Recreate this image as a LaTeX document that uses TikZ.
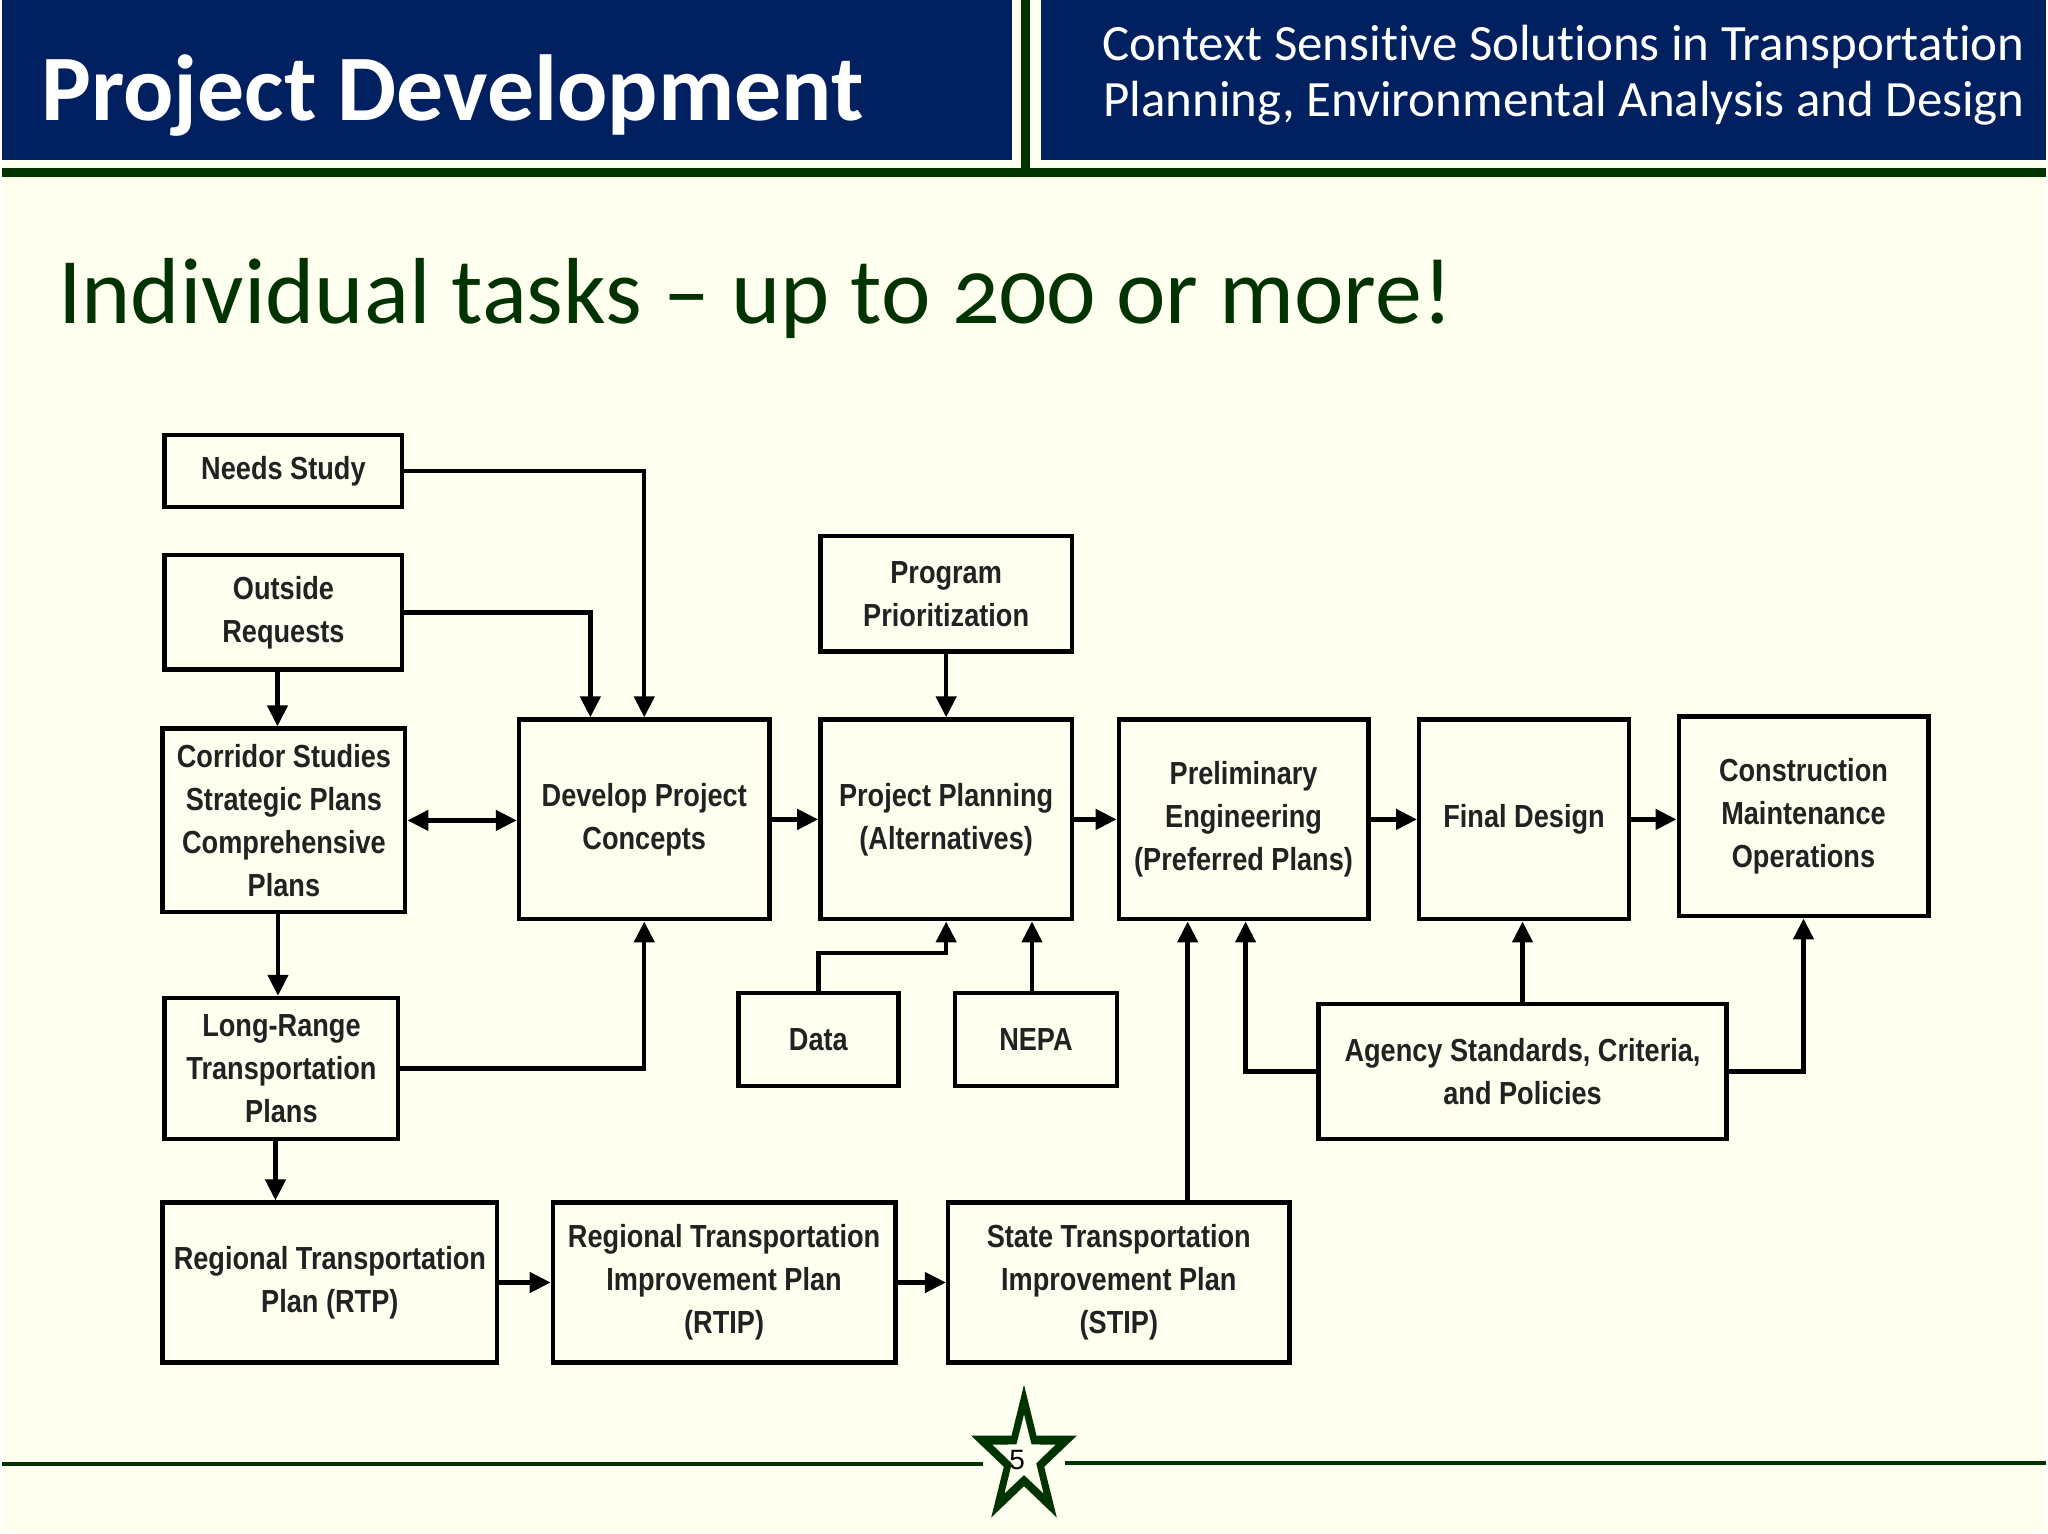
\documentclass[tikz,border=0pt]{standalone}
\usepackage{fontspec}
\setmainfont{Carlito}[Numbers=OldStyle, Ligatures=NoCommon]
\newfontfamily\boxfont[FakeStretch=0.85]{Liberation Sans}
\newfontfamily\numfont{Liberation Sans}
\usetikzlibrary{arrows.meta,positioning}

\definecolor{navy}{RGB}{0,32,96}
\definecolor{darkgreen}{RGB}{0,51,0}
\definecolor{cream}{RGB}{255,255,240}
\definecolor{boxtext}{RGB}{34,34,34}

\tikzset{
  task/.style={draw=black, line width=4.5pt, align=center, inner sep=0pt,
    text=boxtext, font=\boxfont\bfseries\fontsize{32}{43}\selectfont},
  flow/.style={line width=4.5pt, -{Triangle[length=21pt,width=20pt]}},
  flowboth/.style={line width=4.5pt, {Triangle[length=21pt,width=20pt]}-{Triangle[length=21pt,width=20pt]}},
  headtext/.style={inner sep=0pt, text=white},
}

\begin{document}
\begin{tikzpicture}[x=1pt, y=-1pt]
\fill[cream] (0,0) rectangle (2048,1536);
% header
\fill[navy] (0,0) rectangle (1012,160);
\fill[navy] (1041,0) rectangle (2048,160);
\fill[darkgreen] (1021,0) rectangle (1030,177);
\fill[darkgreen] (0,168) rectangle (2048,177);
\node[headtext, anchor=base west, font=\bfseries\fontsize{94}{100}\selectfont] (head) at (39,121) {Project Development};
\node[headtext, anchor=base east, font=\fontsize{51}{56}\selectfont] (sub1) at (2027,61) {Context Sensitive Solutions in Transportation};
\node[headtext, anchor=base east, font=\fontsize{51}{56}\selectfont] (sub2) at (2027,117) {Planning, Environmental Analysis and Design};
\node[inner sep=0pt, anchor=base west, text=darkgreen, font=\fontsize{94}{100}\selectfont] (title) at (56,324) {Individual tasks -- up to 200 or more!};

% task boxes
\node[task, minimum width=238pt, minimum height=72pt] (needs) at (282,472) {Needs Study};
\node[task, minimum width=238pt, minimum height=115pt] (outside) at (282,613.5) {Outside\\Requests};
\node[task, minimum width=243pt, minimum height=184pt] (corridor) at (282.5,822) {Corridor Studies\\Strategic Plans\\Comprehensive\\Plans};
\node[task, minimum width=234pt, minimum height=141pt] (longrange) at (280,1070.5) {Long-Range\\Transportation\\Plans};
\node[task, minimum width=335pt, minimum height=160pt] (rtp) at (328.5,1285) {Regional Transportation\\Plan (RTP)};
\node[task, minimum width=343pt, minimum height=160pt] (rtip) at (723.5,1285) {Regional Transportation\\Improvement Plan\\(RTIP)};
\node[task, minimum width=342pt, minimum height=160pt] (stip) at (1119,1285) {State Transportation\\Improvement Plan\\(STIP)};
\node[task, minimum width=251pt, minimum height=200pt] (develop) at (643.5,821) {Develop Project\\Concepts};
\node[task, minimum width=252pt, minimum height=116pt] (program) at (946,595) {Program\\Prioritization};
\node[task, minimum width=252pt, minimum height=200pt] (planning) at (946,821) {Project Planning\\(Alternatives)};
\node[task, minimum width=160pt, minimum height=93pt] (data) at (818,1041.5) {Data};
\node[task, minimum width=162pt, minimum height=93pt] (nepa) at (1036,1041.5) {NEPA};
\node[task, minimum width=250pt, minimum height=200pt] (prelim) at (1244,821) {Preliminary\\Engineering\\(Preferred Plans)};
\node[task, minimum width=210pt, minimum height=200pt] (final) at (1525,821) {Final Design};
\node[task, minimum width=250pt, minimum height=200pt] (construct) at (1805,818) {Construction\\Maintenance\\Operations};
\node[task, minimum width=409pt, minimum height=135pt] (agency) at (1523.5,1073.5) {Agency Standards, Criteria,\\and Policies};

% connectors
\draw[flow] (needs.east) -| (develop.north);
\draw[flow] (outside.east) -| ([xshift=-54pt]develop.north);
\draw[flow] ([xshift=-6pt]outside.south) -- ([xshift=-6pt]outside.south |- corridor.north);
\draw[flowboth] (corridor.east) -- (corridor.east -| develop.west);
\draw[flow] ([xshift=-6pt]corridor.south) -- ([xshift=-6pt]corridor.south |- longrange.north);
\draw[flow] (longrange.east) -| (develop.south);
\draw[flow] ([xshift=-6pt]longrange.south) -- ([xshift=-6pt]longrange.south |- rtp.north);
\draw[flow] (rtp.east) -- (rtip.west);
\draw[flow] (rtip.east) -- (stip.west);
\draw[flow] ([xshift=69pt]stip.north) -- ([xshift=69pt]stip.north |- prelim.south);
\draw[flow] (develop.east) -- (planning.west);
\draw[flow] (program.south) -- (planning.north);
\draw[flow] (planning.east) -- (prelim.west);
\draw[flow] (prelim.east) -- (final.west);
\draw[flow] (final.east) -- (final.east -| construct.west);
\draw[flow] (data.north) -- ++(0,-38) -| (planning.south);
\draw[flow] ([xshift=-4pt]nepa.north) -- ([xshift=-4pt]nepa.north |- planning.south);
\draw[flow] (agency.west) -| ([xshift=2pt]prelim.south);
\draw[flow] (agency.north) -- (agency.north |- final.south);
\draw[flow] (agency.east) -| (construct.south);

% footer
\draw[darkgreen, line width=4pt] (0,1467) -- (983,1467);
\draw[darkgreen, line width=4pt] (1065,1466) -- (2048,1466);
\begin{scope}[shift={(1024,1461)}, xscale=0.76]
\fill[darkgreen, even odd rule]
  (-90:73.5) -- (-54:28) -- (-18:73.5) -- (18:28) -- (54:73.5) -- (90:28) -- (126:73.5) -- (162:28) -- (198:73.5) -- (234:28) -- cycle
  (-90:44) -- (-54:17) -- (-18:44) -- (18:17) -- (54:44) -- (90:17) -- (126:44) -- (162:17) -- (198:44) -- (234:17) -- cycle;
\end{scope}
\node[inner sep=0pt, font=\numfont\fontsize{28}{30}\selectfont] (pagenum) at (1017,1463) {5};
\end{tikzpicture}
\end{document}
